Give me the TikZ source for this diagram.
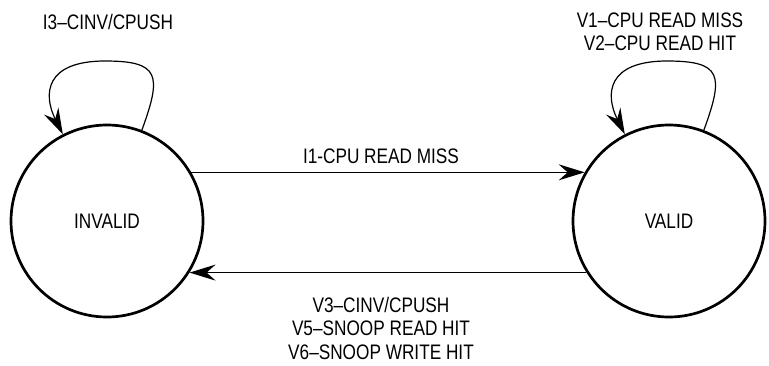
\documentclass[tikz,border=0pt]{standalone}
\usepackage{fontspec}
\setmainfont{Liberation Sans}[FakeStretch=0.82]
\usepackage{tikz}
\usetikzlibrary{calc,arrows.meta}

\begin{document}
\begin{tikzpicture}[x=1pt,y=-1pt,
		state/.style={draw,circle,line width=2.7pt,minimum size=192pt,inner sep=0pt},
		trans/.style={line width=1.2pt,-{Stealth[length=26pt,width=16pt,inset=9pt]}},
		lbl/.style={inner sep=0pt,align=center}]
			\fontsize{21}{23.5}\selectfont
			\useasboundingbox (0,0) rectangle (769,365);
			% the two states
			\node[state] (invalid) at (107,221) {INVALID};
			\node[state] (valid) at (669,221) {VALID};
			% invalid -> valid
			\draw[trans] (invalid.30) -- (valid.150) node[midway,above=8pt,xshift=-7pt,lbl] (rdmiss) {I1-CPU READ MISS};
			% valid -> invalid
			\draw[trans] (valid.-148) -- (invalid.-32) node[midway,below=24pt,xshift=-7pt,lbl] (vback) {V3–CINV/CPUSH\\V5–SNOOP READ HIT\\V6–SNOOP WRITE HIT};
			% self loops
			\coordinate (invtop) at ([xshift=-2pt,yshift=160pt]invalid.center);
			\coordinate (valtop) at ([xshift=-2pt,yshift=160pt]valid.center);
			\draw[trans] (invalid.69) .. controls +(20,-55) and +(55,0) .. (invtop)
				.. controls +(-60,0) and +(-20,-40) .. (invalid.117);
			\draw[trans] (valid.69) .. controls +(20,-55) and +(55,0) .. (valtop)
				.. controls +(-60,0) and +(-20,-40) .. (valid.117);
			% loop labels
			\node[lbl] (invloop) at (108,22) {I3–CINV/CPUSH};
			\node[lbl] (valloop) at (660,32) {V1–CPU READ MISS\\V2–CPU READ HIT};
		\end{tikzpicture}
\end{document}
